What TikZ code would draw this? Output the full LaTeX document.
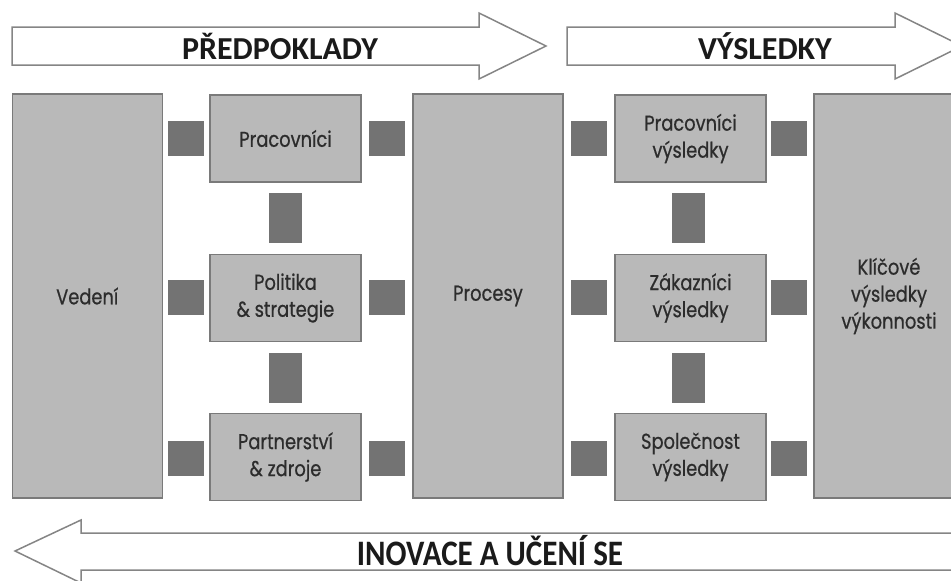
\documentclass[tikz,border=0pt]{standalone}
\usepackage{fontspec}
\setmainfont{Poppins}
\newfontfamily\headfont{Carlito}
\newfontfamily\boxfont[FakeStretch=0.83,FakeBold=0.6]{Poppins}
\definecolor{boxfill}{HTML}{B9B9B9}
\definecolor{boxline}{HTML}{7A7A7A}
\definecolor{sqfill}{HTML}{737373}
\definecolor{arrline}{HTML}{858585}
\definecolor{txt}{HTML}{2C2C2C}
\definecolor{headtxt}{HTML}{1A1A1A}
\tikzset{
  box/.style={draw=boxline, fill=boxfill, line width=1.5pt, inner sep=0pt,
    align=center, text=txt, font=\boxfont\fontsize{21.5}{27}\selectfont},
  bigbox/.style={box, minimum width=150pt, minimum height=404pt},
  smallbox/.style={box, minimum width=151pt, minimum height=87pt},
  hsq/.style={fill=sqfill, draw=none, minimum width=36pt, minimum height=35pt, inner sep=0pt},
  vsq/.style={fill=sqfill, draw=none, minimum width=33pt, minimum height=50pt, inner sep=0pt},
  arrshape/.style={draw=arrline, fill=white, line width=1.5pt, line join=miter},
  headlabel/.style={text=headtxt, font=\headfont\bfseries\fontsize{32}{36}\selectfont, inner sep=0pt}
}
\begin{document}
\begin{tikzpicture}[x=1pt,y=-1pt]
\useasboundingbox (0,0) rectangle (951,581);
\clip (0,0) rectangle (951,581);
% top arrows
\draw[arrshape] (12,27) -- (479,27) -- (479,13) -- (546,46) -- (479,79) -- (479,65) -- (12,65) -- cycle;
\node[headlabel] (pred) at (280,46) {PŘEDPOKLADY};
\draw[arrshape] (567,27) -- (895,27) -- (895,13) -- (962,46) -- (895,79) -- (895,65) -- (567,65) -- cycle;
\node[headlabel] (vysl) at (765,46) {VÝSLEDKY};
% bottom arrow
\draw[arrshape] (15,551) -- (81,520) -- (81,533) -- (965,533) -- (965,570) -- (81,570) -- (81,583) -- cycle;
\node[headlabel] (inov) at (490,551) {\scalebox{0.97}[1.12]{INOVACE A UČENÍ SE}};
% big boxes
\node[bigbox] (ved) at (87.25,296) {Vedení};
\node[bigbox] (proc) at (488,296) {Procesy};
\node[bigbox] (klic) at (889,296) {Klíčové\\výsledky\\výkonnosti};
% small boxes
\node[smallbox] (prac) at (285.5,138.5) {Pracovníci};
\node[smallbox] (pol) at (285.5,298) {Politika\\\& strategie};
\node[smallbox] (part) at (285.5,457) {Partnerství\\\& zdroje};
\node[smallbox] (pracv) at (690.5,138.5) {Pracovníci\\výsledky};
\node[smallbox] (zak) at (690.5,298) {Zákazníci\\výsledky};
\node[smallbox] (spol) at (690.5,457) {Společnost\\výsledky};
% connector squares
\node[hsq] (a1) at (186,138.5) {};
\node[hsq] (a2) at (186,297) {};
\node[hsq] (a3) at (186,458) {};
\node[hsq] (b1) at (387,138.5) {};
\node[hsq] (b2) at (387,297) {};
\node[hsq] (b3) at (387,458) {};
\node[hsq] (c1) at (589,138.5) {};
\node[hsq] (c2) at (589,297) {};
\node[hsq] (c3) at (589,458) {};
\node[hsq] (d1) at (789,138.5) {};
\node[hsq] (d2) at (789,297) {};
\node[hsq] (d3) at (789,458) {};
\node[vsq] (v1) at (285.5,218) {};
\node[vsq] (v2) at (285.5,377.5) {};
\node[vsq] (w1) at (688.5,218) {};
\node[vsq] (w2) at (688.5,377.5) {};
\end{tikzpicture}
\end{document}
